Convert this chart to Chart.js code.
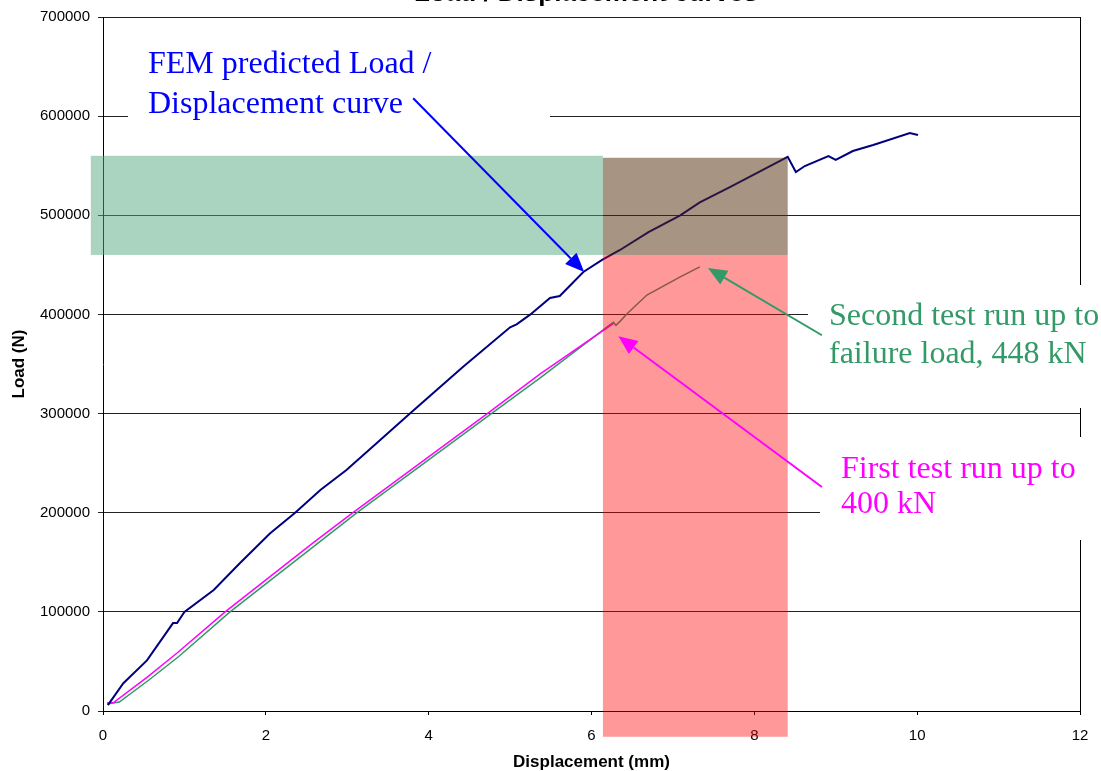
<!DOCTYPE html>
<html>
<head>
<meta charset="utf-8">
<script src="https://cdn.jsdelivr.net/npm/chart.js@4.4.1/dist/chart.umd.min.js"></script>
<style>
  body { margin: 0; background: #fff; }
  #chart { display: block; }
</style>
</head>
<body>
<canvas id="chart" width="1101" height="771"></canvas>
<script>
const canvas = document.getElementById("chart");

// FEM prediction
const femDisp = [0.06, 0.25, 0.54, 0.86, 0.91, 1.0, 1.36, 1.68, 2.05, 2.36, 2.67, 2.99, 3.36, 3.77, 4.42, 5.0, 5.08, 5.25, 5.49, 5.61, 5.9, 6.13, 6.35, 6.7, 7.09, 7.33, 7.7, 8.41, 8.51, 8.62, 8.91, 9.0, 9.21, 9.46, 9.91, 10.01];
const femLoad = [6000, 28000, 51000, 88700, 88700, 100000, 122000, 149000, 179000, 200000, 223000, 243000, 270000, 300000, 347000, 387000, 390000, 400000, 416600, 418600, 442800, 455000, 465000, 483000, 500000, 513000, 528500, 559000, 543700, 549700, 559800, 555800, 564800, 570900, 583000, 581000];

// first test, up to 400 kN
const run1Disp = [0.05, 0.13, 0.54, 0.91, 1.5, 2.58, 3.07, 4.72, 5.37, 6.27];
const run1Load = [8000, 8500, 34000, 58500, 100000, 169500, 200000, 300000, 340000, 391000];

// second test, to failure
const run2Disp = [0.05, 0.2, 0.56, 0.93, 1.56, 3.12, 4.77, 5.37, 6.2, 6.27, 6.3, 6.35, 6.44, 6.68, 7.09, 7.33];
const run2Load = [7000, 9000, 31000, 55000, 100000, 200000, 300000, 336000, 388000, 392000, 389000, 393000, 401000, 419600, 437800, 448000];

// shaded bands (displacement range, load range)
const bandGreenX = [-0.15, 6.14];
const bandGreenY = [460000, 560000];
const bandBrownX = [6.14, 8.41];
const bandBrownY = [460000, 558000];
const bandRedX = [6.14, 8.41];
const bandRedY = [-26000, 460000];

// arrows: [fromDisp, fromLoad, toDisp, toLoad]
const arrowFem = [3.81, 618000, 5.91, 442800];
const arrowRun2 = [8.83, 379000, 7.43, 446800];
const arrowRun1 = [8.83, 226000, 6.33, 378000];

const labelFem = ["FEM predicted Load /", "Displacement curve"];
const labelRun2 = ["Second test run up to", "failure load, 448 kN"];
const labelRun1 = ["First test run up to", "400 kN"];

const titleText = "Load / Displacement curves";

const toPoints = (xs, ys) => xs.map((v, i) => ({ x: v, y: ys[i] }));

Chart.defaults.font.family = '"Liberation Sans", Arial, sans-serif';
Chart.defaults.color = "#000";

const drawArrow = (ctx, x1, y1, x2, y2, color) => {
    const ang = Math.atan2(y2 - y1, x2 - x1);
    const len = 19, half = 8;
    const bx = x2 - len * Math.cos(ang), by = y2 - len * Math.sin(ang);
    ctx.strokeStyle = color;
    ctx.fillStyle = color;
    ctx.lineWidth = 2;
    ctx.beginPath();
    ctx.moveTo(x1, y1);
    ctx.lineTo(bx, by);
    ctx.stroke();
    ctx.beginPath();
    ctx.moveTo(x2, y2);
    ctx.lineTo(bx + half * Math.sin(ang), by - half * Math.cos(ang));
    ctx.lineTo(bx - half * Math.sin(ang), by + half * Math.cos(ang));
    ctx.closePath();
    ctx.fill();
};

const overlay = {
    id: "overlay",
    afterDatasetsDraw(chart) {
        const { ctx, scales: { x, y } } = chart;
        const bands = [
            [bandGreenX, bandGreenY, "rgba(85,169,129,0.5)"],
            [bandBrownX, bandBrownY, "rgba(81,41,5,0.5)"],
            [bandRedX, bandRedY, "rgba(255,0,0,0.4)"],
        ];
        ctx.save();
        for (const [bx, by, color] of bands) {
            const x1 = x.getPixelForValue(bx[0]);
            const x2 = x.getPixelForValue(bx[1]);
            const y1 = y.getPixelForValue(by[0]);
            const y2 = y.getPixelForValue(by[1]);
            ctx.fillStyle = color;
            ctx.fillRect(x1, y2, x2 - x1, y1 - y2);
        }
        ctx.restore();
    },
    afterDraw(chart) {
        const { ctx, scales: { x, y } } = chart;
        ctx.save();

        // white boxes behind the labels
        ctx.fillStyle = "#fff";
        ctx.fillRect(128, 30, 422, 98);
        ctx.fillRect(808, 285, 293, 123);
        ctx.fillRect(820, 437, 281, 103);

        ctx.font = '32px "Liberation Serif", "Times New Roman", serif';
        ctx.textBaseline = "alphabetic";
        ctx.textAlign = "left";
        ctx.fillStyle = "#0000ff";
        ctx.fillText(labelFem[0], 148, 73);
        ctx.fillText(labelFem[1], 148, 113);
        ctx.fillStyle = "#339966";
        ctx.fillText(labelRun2[0], 829, 325);
        ctx.fillText(labelRun2[1], 829, 363);
        ctx.fillStyle = "#ff00ff";
        ctx.fillText(labelRun1[0], 841, 478);
        ctx.fillText(labelRun1[1], 841, 513);

        const arrows = [[arrowFem, "#0000ff"], [arrowRun2, "#339966"], [arrowRun1, "#ff00ff"]];
        for (const [a, color] of arrows) {
            drawArrow(ctx,
                x.getPixelForValue(a[0]), y.getPixelForValue(a[1]),
                x.getPixelForValue(a[2]), y.getPixelForValue(a[3]), color);
        }

        // title, mostly cut off at the top edge
        ctx.font = 'bold 26px "Liberation Sans", Arial, sans-serif';
        ctx.fillStyle = "#000";
        ctx.textAlign = "center";
        ctx.fillText(titleText, 586, 1);
        ctx.restore();
    }
};

const myChart = new Chart(canvas, {
    type: "scatter",
    plugins: [overlay],
    data: {
        datasets: [
            {
                label: "FEM",
                data: toPoints(femDisp, femLoad),
                borderColor: "#000080",
                borderWidth: 2,
            },
            {
                label: "Test 1",
                data: toPoints(run1Disp, run1Load),
                borderColor: "#ff00ff",
                borderWidth: 1.5,
            },
            {
                label: "Test 2",
                data: toPoints(run2Disp, run2Load),
                borderColor: "#339966",
                borderWidth: 1.5,
            },
        ],
    },
    options: {
        responsive: false,
        animation: false,
        showLine: true,
        elements: { point: { radius: 0 }, line: { tension: 0 } },
        layout: { padding: { top: 17, right: 21, left: 0, bottom: 0 } },
        plugins: {
            legend: { display: false },
            tooltip: { enabled: false },
        },
        scales: {
            x: {
                type: "linear",
                min: 0,
                max: 12,
                afterFit: (scale) => { scale.height = 60; },
                ticks: { stepSize: 2, font: { size: 15 }, padding: 12, maxRotation: 0 },
                grid: {
                    color: (c) => (c.tick && c.tick.value === 12 ? "#000" : "rgba(0,0,0,0)"),
                    tickColor: "#000",
                    tickLength: 4,
                },
                border: { color: "#000", width: 1 },
                title: {
                    display: true,
                    text: "Displacement (mm)",
                    font: { size: 17, weight: "bold" },
                    padding: { top: 0, bottom: -2 },
                },
            },
            y: {
                min: 0,
                max: 700000,
                afterFit: (scale) => { scale.width = 103; },
                ticks: { stepSize: 100000, font: { size: 15 }, padding: 8, callback: (v) => String(v) },
                grid: { color: "#222", tickColor: "#222", tickLength: 5 },
                border: { color: "#000", width: 1 },
                title: {
                    display: true,
                    text: "Load (N)",
                    font: { size: 17, weight: "bold" },
                    padding: { top: 9, bottom: 0 },
                },
            },
        },
    },
});
</script>
</body>
</html>
